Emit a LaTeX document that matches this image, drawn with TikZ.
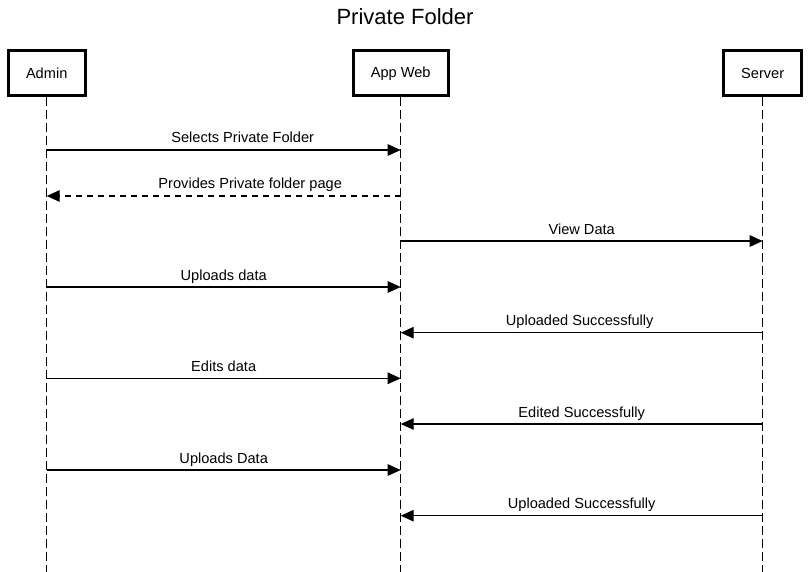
\documentclass[tikz,border=0pt]{standalone}
\usepackage{fontspec}
\setmainfont{Liberation Sans}
\usetikzlibrary{arrows.meta,calc}
\tikzset{
  actor/.style={draw=black, line width=2.6pt, fill=white, inner sep=0pt, minimum height=45pt, font=\fontsize{14.6}{16}\selectfont},
  lifeline/.style={line width=1.3pt, dash pattern=on 9pt off 4pt},
  msg/.style={line width=1.3pt, -{Triangle[length=13pt,width=11.5pt]}},
  reply/.style={msg, dash pattern=on 6pt off 5pt},
  msglabel/.style={anchor=base, inner sep=0pt, font=\fontsize{14.6}{16}\selectfont},
}
\begin{document}
\begin{tikzpicture}[x=1pt,y=-1pt]
\useasboundingbox (0,0) rectangle (810,572);
\node[anchor=base, inner sep=0pt, font=\fontsize{22}{26}\selectfont] (title) at (405,25) {Private Folder};

\node[actor, minimum width=77pt] (admin) at (46.7,73.3) {Admin};
\node[actor, minimum width=95pt] (web) at (400.7,73.3) {App Web};
\node[actor, minimum width=78pt] (server) at (762.7,73.3) {Server};

\coordinate (adminEnd) at (46.7,572);
\coordinate (webEnd) at (400.7,572);
\coordinate (serverEnd) at (762.7,572);
\draw[lifeline] (admin.south) -- (adminEnd);
\draw[lifeline] (web.south) -- (webEnd);
\draw[lifeline] (server.south) -- (serverEnd);

% message end points
\coordinate (a1) at (46.7,150);   \coordinate (w1) at (400.7,150);
\coordinate (a2) at (46.7,196);   \coordinate (w2) at (400.7,196);
\coordinate (w3) at (400.7,241);  \coordinate (s3) at (762.7,241);
\coordinate (a4) at (46.7,287);   \coordinate (w4) at (400.7,287);
\coordinate (w5) at (400.7,332.7);\coordinate (s5) at (762.7,332.7);
\coordinate (a6) at (46.7,378.3); \coordinate (w6) at (400.7,378.3);
\coordinate (w7) at (400.7,424);  \coordinate (s7) at (762.7,424);
\coordinate (a8) at (46.7,470);   \coordinate (w8) at (400.7,470);
\coordinate (w9) at (400.7,515.7);\coordinate (s9) at (762.7,515.7);

\draw[msg] (a1) -- (w1);
\node[msglabel] (l1) at ([xshift=19pt,yshift=7.5pt]$(a1)!0.5!(w1)$) {Selects Private Folder};
\draw[reply] (w2) -- (a2);
\node[msglabel] (l2) at ([xshift=26.5pt,yshift=8pt]$(a2)!0.5!(w2)$) {Provides Private folder page};
\draw[msg] (w3) -- (s3);
\node[msglabel] (l3) at ([yshift=7pt]$(w3)!0.5!(s3)$) {View Data};
\draw[msg] (a4) -- (w4);
\node[msglabel] (l4) at ([yshift=7pt]$(a4)!0.5!(w4)$) {Uploads data};
\draw[msg] (s5) -- (w5);
\node[msglabel] (l5) at ([xshift=-2pt,yshift=7pt]$(w5)!0.5!(s5)$) {Uploaded Successfully};
\draw[msg] (a6) -- (w6);
\node[msglabel] (l6) at ([yshift=7pt]$(a6)!0.5!(w6)$) {Edits data};
\draw[msg] (s7) -- (w7);
\node[msglabel] (l7) at ([yshift=7pt]$(w7)!0.5!(s7)$) {Edited Successfully};
\draw[msg] (a8) -- (w8);
\node[msglabel] (l8) at ([yshift=7pt]$(a8)!0.5!(w8)$) {Uploads Data};
\draw[msg] (s9) -- (w9);
\node[msglabel] (l9) at ([yshift=7pt]$(w9)!0.5!(s9)$) {Uploaded Successfully};
\end{tikzpicture}
\end{document}
